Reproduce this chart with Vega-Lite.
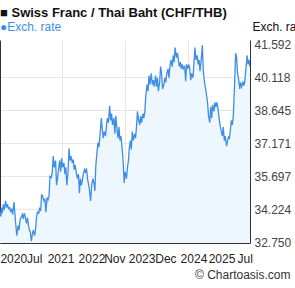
{
  "$schema": "https://vega.github.io/schema/vega-lite/v6.json",
  "width": 250,
  "height": 203,
  "autosize": {"type": "none"},
  "padding": {"left": 0, "top": 40, "right": 45, "bottom": 45},
  "background": "#ffffff",
  "config": {"view": {"stroke": null}, "font": "Liberation Sans"},
  "title": {
    "text": "■ Swiss Franc / Thai Baht (CHF/THB)",
    "subtitle": "●Exch. rate",
    "anchor": "start",
    "frame": "group",
    "font": "Liberation Sans",
    "fontSize": 13,
    "fontWeight": "bold",
    "color": "#111111",
    "subtitleFont": "Liberation Sans",
    "subtitleFontSize": 12,
    "subtitleColor": "#3f8ee6",
    "subtitlePadding": 2,
    "offset": -13
  },
  "data": {"values": [
    {"date":"2020-07-22","rate":34.1},{"date":"2020-07-29","rate":33.9},
    {"date":"2020-08-01","rate":34.3},{"date":"2020-08-08","rate":34.05},{"date":"2020-08-15","rate":34.45},{"date":"2020-08-22","rate":34.2},
    {"date":"2020-09-01","rate":34.6},{"date":"2020-09-08","rate":34.3},{"date":"2020-09-15","rate":34.45},{"date":"2020-09-22","rate":34.25},
    {"date":"2020-10-01","rate":34.3},{"date":"2020-10-08","rate":34.1},{"date":"2020-10-15","rate":34.25},{"date":"2020-10-22","rate":34.0},
    {"date":"2020-11-01","rate":34.55},{"date":"2020-11-08","rate":34.0},{"date":"2020-11-15","rate":33.5},{"date":"2020-11-22","rate":33.05},
    {"date":"2020-12-01","rate":33.5},{"date":"2020-12-08","rate":33.3},{"date":"2020-12-15","rate":33.75},{"date":"2020-12-22","rate":33.85},
    {"date":"2021-01-01","rate":34.0},{"date":"2021-01-08","rate":33.8},{"date":"2021-01-15","rate":34.05},{"date":"2021-01-22","rate":33.9},
    {"date":"2021-02-01","rate":33.6},{"date":"2021-02-08","rate":33.85},{"date":"2021-02-15","rate":33.5},{"date":"2021-02-22","rate":33.3},
    {"date":"2021-03-01","rate":33.2},{"date":"2021-03-08","rate":32.8},{"date":"2021-03-15","rate":33.1},{"date":"2021-03-22","rate":33.3},
    {"date":"2021-04-01","rate":33.05},{"date":"2021-04-08","rate":33.35},{"date":"2021-04-15","rate":33.9},{"date":"2021-04-22","rate":34.1},
    {"date":"2021-05-01","rate":34.05},{"date":"2021-05-08","rate":34.3},{"date":"2021-05-15","rate":34.15},{"date":"2021-05-22","rate":34.9},
    {"date":"2021-06-01","rate":34.75},{"date":"2021-06-08","rate":34.6},{"date":"2021-06-15","rate":34.7},{"date":"2021-06-22","rate":34.1},
    {"date":"2021-07-01","rate":34.75},{"date":"2021-07-08","rate":34.65},{"date":"2021-07-15","rate":34.8},{"date":"2021-07-22","rate":35.7},
    {"date":"2021-08-01","rate":35.65},{"date":"2021-08-08","rate":35.9},{"date":"2021-08-15","rate":36.6},{"date":"2021-08-22","rate":36.1},
    {"date":"2021-09-01","rate":36.4},{"date":"2021-09-08","rate":35.3},{"date":"2021-09-15","rate":35.6},{"date":"2021-09-22","rate":36.0},
    {"date":"2021-10-01","rate":36.4},{"date":"2021-10-08","rate":35.9},{"date":"2021-10-15","rate":36.5},{"date":"2021-10-22","rate":36.1},
    {"date":"2021-11-01","rate":36.3},{"date":"2021-11-08","rate":35.8},{"date":"2021-11-15","rate":36.1},{"date":"2021-11-22","rate":35.3},
    {"date":"2021-12-01","rate":35.9},{"date":"2021-12-08","rate":36.95},{"date":"2021-12-15","rate":36.4},{"date":"2021-12-22","rate":36.6},
    {"date":"2022-01-01","rate":36.3},{"date":"2022-01-08","rate":36.45},{"date":"2022-01-15","rate":36.0},{"date":"2022-01-22","rate":36.2},
    {"date":"2022-02-01","rate":35.8},{"date":"2022-02-08","rate":35.6},{"date":"2022-02-15","rate":35.8},{"date":"2022-02-22","rate":34.95},
    {"date":"2022-03-01","rate":35.6},{"date":"2022-03-08","rate":35.3},{"date":"2022-03-15","rate":35.5},{"date":"2022-03-22","rate":35.8},
    {"date":"2022-04-01","rate":36.0},{"date":"2022-04-08","rate":35.85},{"date":"2022-04-15","rate":36.05},{"date":"2022-04-22","rate":35.6},
    {"date":"2022-05-01","rate":35.3},{"date":"2022-05-08","rate":35.0},{"date":"2022-05-15","rate":34.6},{"date":"2022-05-22","rate":35.3},
    {"date":"2022-06-01","rate":35.6},{"date":"2022-06-08","rate":35.4},{"date":"2022-06-15","rate":35.05},{"date":"2022-06-22","rate":36.2},
    {"date":"2022-07-01","rate":36.8},{"date":"2022-07-08","rate":37.2},{"date":"2022-07-15","rate":37.0},{"date":"2022-07-22","rate":37.5},
    {"date":"2022-08-01","rate":38.3},{"date":"2022-08-08","rate":37.8},{"date":"2022-08-15","rate":37.4},{"date":"2022-08-22","rate":37.7},
    {"date":"2022-09-01","rate":37.5},{"date":"2022-09-08","rate":38.0},{"date":"2022-09-15","rate":38.3},{"date":"2022-09-22","rate":38.1},
    {"date":"2022-10-01","rate":38.85},{"date":"2022-10-08","rate":38.2},{"date":"2022-10-15","rate":38.5},{"date":"2022-10-22","rate":38.0},
    {"date":"2022-11-01","rate":38.3},{"date":"2022-11-08","rate":37.6},{"date":"2022-11-15","rate":38.4},{"date":"2022-11-22","rate":37.9},
    {"date":"2022-12-01","rate":37.4},{"date":"2022-12-08","rate":37.9},{"date":"2022-12-15","rate":37.3},{"date":"2022-12-22","rate":37.5},
    {"date":"2023-01-01","rate":36.9},{"date":"2023-01-08","rate":36.3},{"date":"2023-01-15","rate":35.4},{"date":"2023-01-22","rate":35.9},
    {"date":"2023-02-01","rate":35.6},{"date":"2023-02-08","rate":36.1},{"date":"2023-02-15","rate":36.4},{"date":"2023-02-22","rate":37.0},
    {"date":"2023-03-01","rate":37.3},{"date":"2023-03-08","rate":36.9},{"date":"2023-03-15","rate":37.7},{"date":"2023-03-22","rate":37.3},
    {"date":"2023-04-01","rate":37.6},{"date":"2023-04-08","rate":37.4},{"date":"2023-04-15","rate":37.9},{"date":"2023-04-22","rate":38.6},
    {"date":"2023-05-01","rate":38.2},{"date":"2023-05-08","rate":38.0},{"date":"2023-05-15","rate":38.4},{"date":"2023-05-22","rate":38.1},
    {"date":"2023-06-01","rate":38.5},{"date":"2023-06-08","rate":38.3},{"date":"2023-06-15","rate":38.6},{"date":"2023-06-22","rate":39.3},
    {"date":"2023-07-01","rate":39.8},{"date":"2023-07-08","rate":39.5},{"date":"2023-07-15","rate":40.2},{"date":"2023-07-22","rate":39.8},
    {"date":"2023-08-01","rate":40.3},{"date":"2023-08-08","rate":39.8},{"date":"2023-08-15","rate":40.0},{"date":"2023-08-22","rate":39.7},
    {"date":"2023-09-01","rate":40.2},{"date":"2023-09-08","rate":39.7},{"date":"2023-09-15","rate":40.1},{"date":"2023-09-22","rate":39.5},
    {"date":"2023-10-01","rate":39.9},{"date":"2023-10-08","rate":40.6},{"date":"2023-10-15","rate":40.3},{"date":"2023-10-22","rate":39.6},
    {"date":"2023-11-01","rate":39.8},{"date":"2023-11-08","rate":40.1},{"date":"2023-11-15","rate":39.9},{"date":"2023-11-22","rate":40.3},
    {"date":"2023-12-01","rate":40.5},{"date":"2023-12-08","rate":40.1},{"date":"2023-12-15","rate":40.6},{"date":"2023-12-22","rate":40.9},
    {"date":"2024-01-01","rate":40.6},{"date":"2024-01-08","rate":41.1},{"date":"2024-01-15","rate":40.8},{"date":"2024-01-22","rate":41.45},
    {"date":"2024-02-01","rate":41.0},{"date":"2024-02-08","rate":41.2},{"date":"2024-02-15","rate":40.9},{"date":"2024-02-22","rate":40.6},
    {"date":"2024-03-01","rate":40.8},{"date":"2024-03-08","rate":40.5},{"date":"2024-03-15","rate":40.7},{"date":"2024-03-22","rate":40.5},
    {"date":"2024-04-01","rate":40.6},{"date":"2024-04-08","rate":39.95},{"date":"2024-04-15","rate":40.7},{"date":"2024-04-22","rate":40.5},
    {"date":"2024-05-01","rate":40.7},{"date":"2024-05-08","rate":40.5},{"date":"2024-05-15","rate":40.0},{"date":"2024-05-22","rate":40.3},
    {"date":"2024-06-01","rate":40.1},{"date":"2024-06-08","rate":40.8},{"date":"2024-06-15","rate":41.45},{"date":"2024-06-22","rate":40.9},
    {"date":"2024-07-01","rate":41.1},{"date":"2024-07-08","rate":40.7},{"date":"2024-07-15","rate":40.9},{"date":"2024-07-22","rate":40.4},
    {"date":"2024-08-01","rate":41.0},{"date":"2024-08-08","rate":41.55},{"date":"2024-08-15","rate":40.4},{"date":"2024-08-22","rate":40.0},
    {"date":"2024-09-01","rate":39.6},{"date":"2024-09-08","rate":39.3},{"date":"2024-09-15","rate":39.0},{"date":"2024-09-22","rate":38.4},
    {"date":"2024-10-01","rate":38.1},{"date":"2024-10-08","rate":38.8},{"date":"2024-10-15","rate":38.3},{"date":"2024-10-22","rate":38.9},
    {"date":"2024-11-01","rate":38.6},{"date":"2024-11-08","rate":39.0},{"date":"2024-11-15","rate":38.8},{"date":"2024-11-22","rate":39.0},
    {"date":"2024-12-01","rate":38.7},{"date":"2024-12-08","rate":38.3},{"date":"2024-12-15","rate":38.0},{"date":"2024-12-22","rate":37.8},
    {"date":"2025-01-01","rate":37.5},{"date":"2025-01-08","rate":37.9},{"date":"2025-01-15","rate":37.3},{"date":"2025-01-22","rate":37.5},
    {"date":"2025-02-01","rate":37.05},{"date":"2025-02-08","rate":37.3},{"date":"2025-02-15","rate":37.45},{"date":"2025-02-22","rate":37.4},
    {"date":"2025-03-01","rate":37.8},{"date":"2025-03-08","rate":38.2},{"date":"2025-03-15","rate":38.0},{"date":"2025-03-22","rate":38.4},
    {"date":"2025-04-01","rate":39.9},{"date":"2025-04-08","rate":41.2},{"date":"2025-04-15","rate":41.0},{"date":"2025-04-22","rate":40.3},
    {"date":"2025-05-01","rate":40.0},{"date":"2025-05-08","rate":39.6},{"date":"2025-05-15","rate":39.9},{"date":"2025-05-22","rate":39.7},
    {"date":"2025-06-01","rate":39.9},{"date":"2025-06-08","rate":39.75},{"date":"2025-06-15","rate":40.0},{"date":"2025-06-22","rate":40.5},
    {"date":"2025-07-01","rate":41.1},{"date":"2025-07-08","rate":40.7},{"date":"2025-07-15","rate":40.9},{"date":"2025-07-22","rate":40.6}
  ]},
  "encoding": {
    "x": {
      "field": "date",
      "type": "temporal",
      "scale": {"domain": [{"year": 2020, "month": 7, "date": 22, "utc": true}, {"year": 2025, "month": 7, "date": 22, "utc": true}]},
      "axis": {
        "values": [
          {"year": 2020, "month": 10, "date": 27, "utc": true},
          {"year": 2021, "month": 3, "date": 29, "utc": true},
          {"year": 2021, "month": 10, "date": 7, "utc": true},
          {"year": 2021, "month": 10, "date": 21, "utc": true},
          {"year": 2022, "month": 5, "date": 21, "utc": true},
          {"year": 2022, "month": 11, "date": 4, "utc": true},
          {"year": 2023, "month": 1, "date": 21, "utc": true},
          {"year": 2023, "month": 5, "date": 22, "utc": true},
          {"year": 2023, "month": 11, "date": 12, "utc": true},
          {"year": 2024, "month": 4, "date": 22, "utc": true},
          {"year": 2024, "month": 6, "date": 4, "utc": true},
          {"year": 2024, "month": 12, "date": 26, "utc": true},
          {"year": 2025, "month": 6, "date": 13, "utc": true}
        ],
        "labelExpr": "['2020','Jul','2021','2022','Nov','2023','Dec','2024','2025','Jul'][indexof(['2020-10-27','2021-03-29','2021-10-07','2022-05-21','2022-11-04','2023-05-22','2023-11-12','2024-06-04','2024-12-26','2025-06-13'], utcFormat(datum.value, '%Y-%m-%d'))] || ''",
        "grid": true,
        "gridColor": "#e6e6e6",
        "gridWidth": 1,
        "gridOpacity": {"condition": {"test": "indexof(['2021-10-21','2023-01-21','2024-04-22'], utcFormat(datum.value, '%Y-%m-%d')) >= 0", "value": 1}, "value": 0},
        "ticks": false,
        "tickSize": 0,
        "domain": true,
        "domainColor": "#333333",
        "domainWidth": 1,
        "labelFont": "Liberation Sans",
        "labelFontSize": 12,
        "labelColor": "#222222",
        "labelAlign": "center",
        "labelBaseline": "top",
        "labelPadding": 10,
        "labelFlush": false,
        "labelOverlap": false,
        "labelBound": false,
        "title": "© Chartoasis.com",
        "titleFont": "Liberation Sans",
        "titleFontSize": 12,
        "titleFontWeight": "normal",
        "titleColor": "#333333",
        "titleAlign": "right",
        "titleBaseline": "alphabetic",
        "titleX": 290,
        "titleY": 35
      }
    }
  },
  "layer": [
    {
      "mark": {"type": "area", "color": "#eef6fe", "clip": true},
      "encoding": {
        "y": {
          "field": "rate",
          "type": "quantitative",
          "scale": {"domain": [32.72, 41.79], "nice": false, "zero": false},
          "axis": {
            "orient": "right",
            "values": [32.75, 34.224, 35.697, 37.171, 38.645, 40.118, 41.592],
            "format": ".3f",
            "grid": true,
            "gridColor": "#e6e6e6",
            "gridOpacity": {"condition": {"test": "datum.value > 41 || datum.value < 33", "value": 0}, "value": 1},
            "ticks": false,
            "tickSize": 0,
            "domain": true,
            "domainColor": "#333333",
            "labelFont": "Liberation Sans",
            "labelFontSize": 12,
            "labelColor": "#444444",
            "labelPadding": 4,
            "labelFlush": false,
            "labelOverlap": false,
            "title": "Exch. rate",
            "titleFont": "Liberation Sans",
            "titleFontSize": 12,
            "titleFontWeight": "normal",
            "titleColor": "#111111",
            "titleAngle": 0,
            "titleAlign": "left",
            "titleBaseline": "alphabetic",
            "titleX": 2,
            "titleY": -10
          }
        }
      }
    },
    {
      "mark": {"type": "line", "color": "#3f8ee6", "strokeWidth": 1.3, "clip": true},
      "encoding": {
        "y": {
          "field": "rate",
          "type": "quantitative",
          "axis": {"orient": "left", "labels": false, "ticks": false, "grid": false, "domain": true, "domainColor": "#333333", "title": null}
        }
      }
    }
  ],
  "resolve": {"axis": {"y": "independent"}}
}
